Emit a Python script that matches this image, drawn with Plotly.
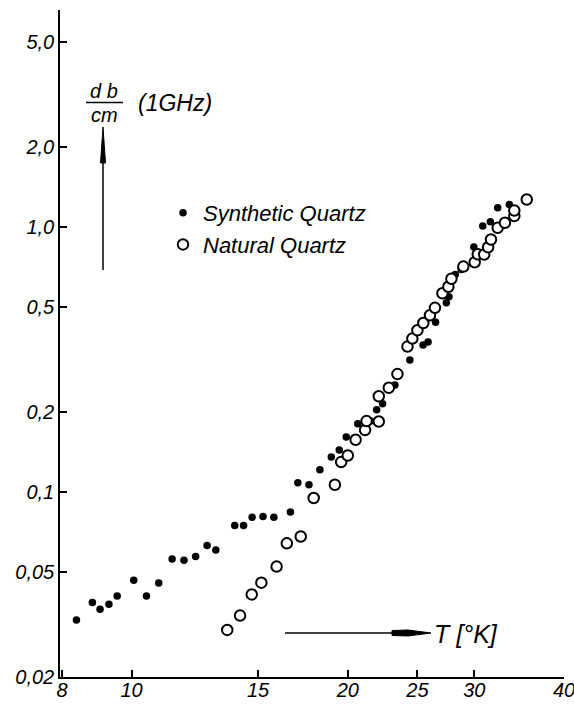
import math
import plotly.graph_objects as go

# ---- data ----
T_synthetic = [8.38, 8.82, 9.04, 9.30, 9.55, 10.07, 10.49, 10.91, 11.39, 11.83, 12.28, 12.74, 13.10,
               13.92, 14.32, 14.72, 15.24, 15.78, 16.64, 17.04, 17.66, 18.29, 18.97, 19.46, 19.90,
               20.65, 21.52, 21.94, 22.36, 23.26, 24.40, 25.46, 25.87, 26.50, 27.43, 27.66, 28.23,
               28.77, 29.96, 30.83, 31.59, 32.34, 33.57]
att_synthetic = [0.0328, 0.0382, 0.0360, 0.0376, 0.0404, 0.0464, 0.0404, 0.0453, 0.0557, 0.0551,
                 0.0570, 0.0627, 0.0603, 0.0746, 0.0746, 0.0801, 0.0806, 0.0801, 0.0838, 0.1081,
                 0.1063, 0.1211, 0.1352, 0.1437, 0.1609, 0.1806, 0.1848, 0.2039, 0.2149, 0.2528,
                 0.3141, 0.3578, 0.3672, 0.4362, 0.5166, 0.5443, 0.6607, 0.6902, 0.8384, 1.006,
                 1.0444, 1.1795, 1.2137]

T_natural = [13.59, 14.16, 14.70, 15.16, 15.92, 16.45, 17.20, 17.93, 19.19, 19.58, 20.00, 20.51,
             21.14, 21.24, 22.09, 22.09, 22.81, 23.45, 24.22, 24.60, 25.00, 25.48, 26.03, 26.45,
             27.09, 27.61, 27.88, 28.97, 30.04, 30.34, 30.97, 31.36, 31.65, 32.34, 33.10, 34.11,
             34.11, 35.50]
att_natural = [0.0301, 0.0341, 0.0410, 0.0454, 0.0522, 0.0639, 0.0678, 0.0947, 0.1063, 0.1294,
               0.1371, 0.1571, 0.1709, 0.1848, 0.1842, 0.2293, 0.2469, 0.2781, 0.3531, 0.3785,
               0.4069, 0.4335, 0.4634, 0.4946, 0.5612, 0.5937, 0.6364, 0.7078, 0.7345, 0.7874,
               0.7857, 0.8369, 0.8955, 0.9913, 1.0354, 1.0974, 1.1521, 1.2677]

x_tickvals = [8, 10, 15, 20, 25, 30, 40]
x_ticktext = ["8", "10", "15", "20", "25", "30", "40"]
y_tickvals = [0.02, 0.05, 0.1, 0.2, 0.5, 1.0, 2.0, 5.0]
y_ticktext = ["0,02", "0,05", "0,1", "0,2", "0,5", "1,0", "2,0", "5,0"]

# ---- layout geometry ----
W, H = 574, 704
ML, MR, MT, MB = 60, 10, 10, 27
PW, PH = W - ML - MR, H - MT - MB


def px(x):
    return (x - ML) / PW


def py(y):
    return (H - MB - y) / PH


FONT = "Liberation Sans, Arial, sans-serif"


def ital(size):
    return dict(family=FONT, size=size, color="black", style="italic")


fig = go.Figure()
fig.add_trace(go.Scatter(x=T_synthetic, y=att_synthetic, mode="markers", name="Synthetic Quartz",
                         marker=dict(symbol="circle", size=7.5, color="black",
                                     line=dict(width=0))))
fig.add_trace(go.Scatter(x=T_natural, y=att_natural, mode="markers", name="Natural Quartz",
                         marker=dict(symbol="circle", size=10.5, color="white",
                                     line=dict(width=2, color="black"))))

fig.update_xaxes(type="log", range=[math.log10(7.95), math.log10(40.0)],
                 tickvals=x_tickvals, ticktext=x_ticktext, tickfont=ital(20),
                 ticklabelstandoff=-6, ticklabeloverflow="allow", automargin=False,
                 showline=True, linecolor="black", linewidth=1.5, ticks="inside",
                 ticklen=7, tickwidth=1.5, tickcolor="black", showgrid=False, zeroline=False)
fig.update_yaxes(type="log", range=[math.log10(0.02), math.log10(0.02) + PH / 265.0],
                 tickvals=y_tickvals, ticktext=y_ticktext, tickfont=ital(20),
                 ticklabelstandoff=0, ticklabeloverflow="allow", automargin=False,
                 showline=True, linecolor="black", linewidth=1.5, ticks="inside",
                 ticklen=7, tickwidth=1.5, tickcolor="black", showgrid=False, zeroline=False)

shapes = []
# fraction bar of db/cm
shapes.append(dict(type="line", xref="paper", yref="paper", x0=px(86), x1=px(123),
                   y0=py(102.5), y1=py(102.5), line=dict(color="black", width=1.5)))
# vertical arrow
shapes.append(dict(type="line", xref="paper", yref="paper", x0=px(103), x1=px(103),
                   y0=py(270), y1=py(150), line=dict(color="black", width=1.5)))
shapes.append(dict(type="path", xref="paper", yref="paper",
                   path=f"M {px(103)},{py(127)} L {px(105.5)},{py(163)} L {px(100.5)},{py(163)} Z",
                   fillcolor="black", line=dict(color="black", width=1)))
# horizontal arrow
shapes.append(dict(type="line", xref="paper", yref="paper", x0=px(285), x1=px(400),
                   y0=py(633), y1=py(633), line=dict(color="black", width=1.5)))
shapes.append(dict(type="path", xref="paper", yref="paper",
                   path=(f"M {px(392)},{py(630.5)} L {px(408)},{py(630)} L {px(431)},{py(633)} "
                         f"L {px(408)},{py(636)} L {px(392)},{py(635.5)} Z"),
                   fillcolor="black", line=dict(color="black", width=1)))

annotations = [
    dict(text="d b", x=px(104), y=py(91), xref="paper", yref="paper", showarrow=False,
         xanchor="center", yanchor="middle", font=ital(20)),
    dict(text="cm", x=px(104), y=py(115), xref="paper", yref="paper", showarrow=False,
         xanchor="center", yanchor="middle", font=ital(20)),
    dict(text="(1GHz)", x=px(136), y=py(103), xref="paper", yref="paper", showarrow=False,
         xanchor="left", yanchor="middle", font=ital(23)),
    dict(text="T [°K]", x=px(432), y=py(634), xref="paper", yref="paper", showarrow=False,
         xanchor="left", yanchor="middle", font=ital(25)),
]

fig.update_layout(
    width=W, height=H, margin=dict(l=ML, r=MR, t=MT, b=MB, autoexpand=False),
    paper_bgcolor="white", plot_bgcolor="white",
    shapes=shapes, annotations=annotations,
    showlegend=True,
    legend=dict(x=px(163), y=py(192), xanchor="left", yanchor="top", bgcolor="rgba(0,0,0,0)",
                font=ital(22), itemwidth=30, tracegroupgap=0),
)

fig.write_html("out.html")
